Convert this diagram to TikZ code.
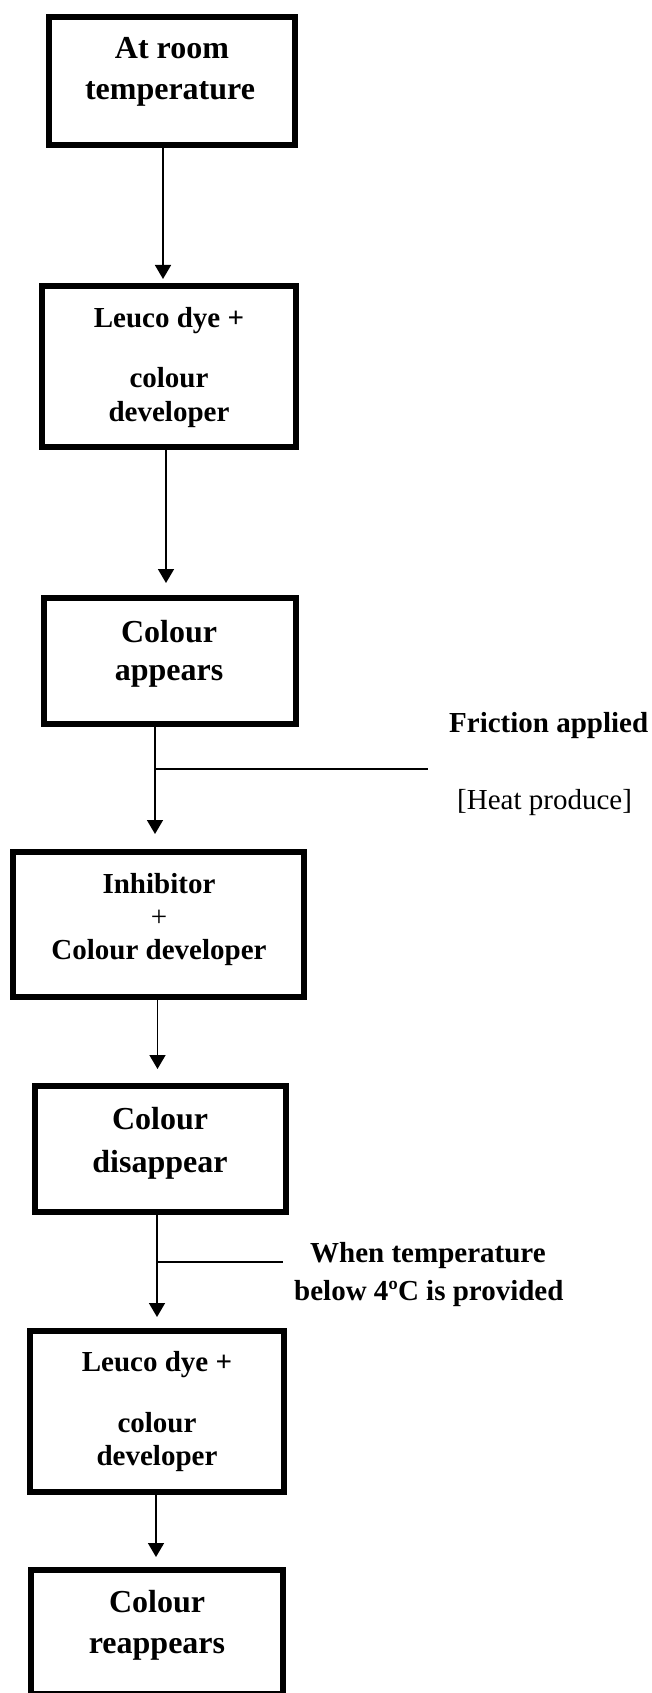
\documentclass[tikz,border=0pt]{standalone}
\usepackage{fontspec}
\setmainfont{Liberation Serif}
\usetikzlibrary{arrows.meta,calc}
\tikzset{
  box/.style={draw=black, line width=6pt, rectangle, inner sep=0pt, outer sep=3pt},
  big/.style={font=\bfseries\fontsize{32}{38}\selectfont, inner sep=0pt, anchor=base},
  mid/.style={font=\bfseries\fontsize{29}{35}\selectfont, inner sep=0pt, anchor=base},
  lbl/.style={font=\bfseries\fontsize{29}{35}\selectfont, inner sep=0pt, anchor=base west},
  lblr/.style={font=\fontsize{29}{35}\selectfont, inner sep=0pt, anchor=base west},
  arr/.style={draw=black, line width=1.6pt, -{Triangle[width=16pt,length=14pt]}},
  branch/.style={draw=black, line width=1.1pt},
}
\begin{document}
\begin{tikzpicture}[x=1pt,y=-1pt]
\useasboundingbox (0,0) rectangle (652,1693);
\clip (0,0) rectangle (652,1693);
% boxes
\node[box, minimum width=246pt, minimum height=128pt] (b1) at (172,81) {};
\node[box, minimum width=254pt, minimum height=161pt] (b2) at (169,366.5) {};
\node[box, minimum width=252pt, minimum height=126pt] (b3) at (170,661) {};
\node[box, minimum width=291pt, minimum height=145pt] (b4) at (158.5,924.5) {};
\node[box, minimum width=251pt, minimum height=126pt] (b5) at (160.5,1149) {};
\node[box, minimum width=254pt, minimum height=161pt] (b6) at (157,1411.5) {};
\node[box, minimum width=252pt, minimum height=124pt] (b7) at (157,1632) {};
% texts
\node[big] (t1a) at (172,59) {At room};
\node[big] (t1b) at (170,100) {temperature};
\node[mid] (t2a) at (169,327) {Leuco dye +};
\node[mid] (t2b) at (169,387) {colour};
\node[mid] (t2c) at (169,421) {developer};
\node[big] (t3a) at (169,642) {Colour};
\node[big] (t3b) at (169,680) {appears};
\node[mid] (t4a) at (159,893) {Inhibitor};
\node[font=\fontsize{29}{35}\selectfont, inner sep=0pt, anchor=base] (t4b) at (159,926) {+};
\node[mid] (t4c) at (159,959) {Colour developer};
\node[big] (t5a) at (160,1129) {Colour};
\node[big] (t5b) at (160,1172) {disappear};
\node[mid] (t6a) at (157,1371) {Leuco dye +};
\node[mid] (t6b) at (157,1432) {colour};
\node[mid] (t6c) at (157,1465) {developer};
\node[big] (t7a) at (157,1612) {Colour};
\node[big] (t7b) at (157,1653) {reappears};
% labels
\node[lbl] (l1) at (449,732) {Friction applied};
\node[lblr] (l2) at (457,809) {[Heat produce]};
\node[lbl] (l3) at (310,1262) {When temperature};
\node[lbl] (l4) at (294,1300) {below 4ºC is provided};
% arrows
\draw[arr, shorten >=4pt] ([xshift=-9pt]b1.south) -- ([xshift=-9pt]b1.south |- b2.north);
\draw[arr, shorten >=12pt] ([xshift=-3pt]b2.south) -- ([xshift=-3pt]b2.south |- b3.north);
\draw[arr, shorten >=15pt] ([xshift=-15pt]b3.south) -- ([xshift=-15pt]b3.south |- b4.north);
\draw[arr, shorten >=14pt] ([xshift=-1pt]b4.south) -- ([xshift=-1pt]b4.south |- b5.north);
\draw[arr, shorten >=11pt] ([xshift=-3.5pt]b5.south) -- ([xshift=-3.5pt]b5.south |- b6.north);
\draw[arr, shorten >=10pt] ([xshift=-1pt]b6.south) -- ([xshift=-1pt]b6.south |- b7.north);
% branch lines
\coordinate (j1) at (155,769);
\coordinate (e1) at (428,769);
\draw[branch] (j1) -- (e1);
\coordinate (j2) at (157,1262);
\coordinate (e2) at (283,1262);
\draw[branch] (j2) -- (e2);
\end{tikzpicture}
\end{document}
